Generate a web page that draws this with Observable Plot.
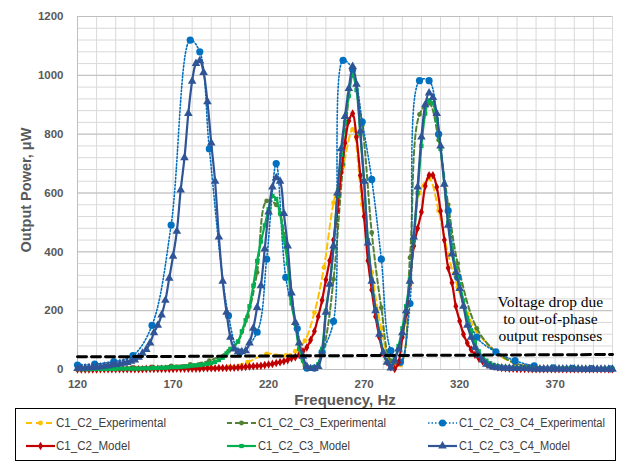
<!DOCTYPE html>
<html><head><meta charset="utf-8">
<script src="https://cdn.jsdelivr.net/npm/d3@7"></script>
<script src="https://cdn.jsdelivr.net/npm/@observablehq/plot@0.6"></script>
<style>
body{margin:0;background:#fff;width:625px;height:467px;overflow:hidden;position:relative;}
#chart{position:absolute;left:0;top:0}
#legend{position:absolute;left:15px;top:408px}
</style></head><body>
<div id="chart"></div><div id="legend"></div>
<script>
// ---------- data ----------
const xTicks = [120,170,220,270,320,370];
const yTicks = [0,200,400,600,800,1000,1200];

const freqModel = [
120,122,124,126,128,130,132,134,136,138,
140,142,144,146,148,150,152,154,156,158,
160,162,164,166,168,170,172,174,176,178,
180,182,184,186,188,190,192,194,196,198,
200,202,204,206,208,210,212,214,216,218,
220,222,224,226,228,230,232,234,236,238,
240,242,244,246,248,250,252,254,256,258,
260,262,264,266,268,270,272,274,276,278,
280,282,284,286,288,290,292,294,296,298,
300,302,304,306,308,310,312,314,316,318,
320,322,324,326,328,330,332,334,336,338,
340,342,344,346,348,350,352,354,356,358,
360,362,364,366,368,370,372,374,376,378,
380,382,384,386,388,390,392,394,396,398,
400];

const c2Model = [
0,0,0,0,0,0,1,1,1,1,
1,1,1,1,1,1,1,1,2,2,
2,2,2,2,2,2,3,3,3,3,
3,3,3,4,4,4,4,5,5,5,
6,6,7,8,9,10,11,12,13,15,
17,19,22,25,28,32,38,42,50,62,
75,100,130,180,235,305,370,440,540,670,
770,845,870,790,660,520,370,270,180,110,
55,25,8,2,24,110,190,300,420,480,
535,624,660,660,620,539,440,345,295,215,
165,120,90,68,50,38,28,20,14,10,
7,5,4,3,3,2,2,2,2,1,
1,1,1,1,1,1,1,1,1,1,
1,1,1,1,1,1,1,1,1,1,
1];

const c3Model = [
1,1,1,1,2,2,2,2,2,2,
2,3,3,3,3,3,3,4,4,4,
5,5,6,6,7,8,8,9,10,11,
13,14,15,17,19,22,26,32,40,55,
70,80,95,130,168,215,285,369,435,490,
545,590,580,530,445,360,225,155,70,30,
8,3,5,18,70,200,290,415,590,730,
840,930,1000,950,800,640,440,305,205,125,
60,25,10,35,80,140,215,310,440,600,
760,870,915,905,850,750,630,500,410,345,
290,235,175,130,92,62,44,30,21,15,
11,9,7,6,6,5,5,5,4,4,
4,4,3,3,3,3,3,3,3,3,
3,3,3,3,2,2,2,2,2,2,
2];

const c4Model = [
3,4,5,6,7,8,9,11,13,15,
17,19,21,24,28,32,42,55,68,90,
125,150,185,235,310,385,470,610,720,870,
980,1040,1050,1010,910,770,640,450,300,195,
110,70,60,60,64,90,140,211,285,410,
535,620,652,640,530,420,260,160,90,45,
10,3,3,10,55,195,290,420,600,750,
860,955,1030,970,810,640,430,300,200,120,
58,25,5,30,70,125,200,300,450,620,
790,900,940,925,870,760,630,490,393,330,
275,215,150,110,75,48,32,18,12,8,
6,5,4,4,3,3,3,3,3,2,
2,2,2,2,2,2,2,2,2,2,
2,2,1,1,1,1,1,1,1,1,
1];

const c2ExpFreq  = [120,129,139,149,159,169,179,189,199,209,219,229,234,239,244,249,254,259,264,269,274,279,284,289,294,299,304,309,314,319,324,329,339,349,359,369,379,389,399];
const c2ExpPower = [2,2,3,4,5,6,7,8,8,25,53,48,62,98,194,347,567,690,816,561,330,140,25,15,290,600,650,540,390,280,190,130,57,20,8,4,3,2,2];

const c3ExpFreq  = [120,129,139,149,159,169,179,189,199,204,209,214,219,224,229,234,239,244,249,254,259,264,269,274,279,284,289,294,299,304,309,314,319,329,339,349,359,369,379,389,399];
const c3ExpPower = [2,3,5,7,9,12,17,30,62,95,180,330,573,560,430,160,12,5,80,307,697,1000,830,465,210,30,20,380,867,905,780,560,360,140,60,22,8,4,3,2,2];

const c4ExpFreq  = [120,129,139,149,159,169,179,184,189,199,205,214,219,224,229,235,240,244,248,254,259,264,269,274,279,284,289,294,299,304,309,314,319,329,339,349,359,369,379,389,399];
const c4ExpPower = [15,18,27,47,150,491,1120,1080,750,183,59,127,375,700,313,139,5,5,59,164,1051,1020,842,646,375,64,25,224,982,982,800,540,313,110,60,30,12,6,4,3,2];

const dropFreq  = [120,400];
const dropPower = [43,51];

const noteText = "Voltage drop due\nto out-of-phase\noutput responses";
const noteFreq = 367.5;
const notePower = 174;

// ---------- series ----------
const series = [
  {name:"C1_C2_Experimental", f:c2ExpFreq, p:c2ExpPower, color:"#FFC000", dash:"6,4", w:2, symbol:"circle", r:2.4},
  {name:"C1_C2_C3_Experimental", f:c3ExpFreq, p:c3ExpPower, color:"#548235", dash:"5,3", w:2, symbol:"circle", r:2.4},
  {name:"C1_C2_C3_C4_Experimental", f:c4ExpFreq, p:c4ExpPower, color:"#0070C0", dash:"1.5,2", w:1.6, symbol:"circle", r:3.6},
  {name:"C1_C2_Model", f:freqModel, p:c2Model, color:"#C00000", dash:null, w:2.2, symbol:"diamond", r:2.6},
  {name:"C1_C2_C3_Model", f:freqModel, p:c3Model, color:"#00B050", dash:null, w:2.2, symbol:"square", r:2.4},
  {name:"C1_C2_C3_C4_Model", f:freqModel, p:c4Model, color:"#2F5597", dash:null, w:2.2, symbol:"triangle", r:3.2}
];
const toRows = (f,p) => f.map((x,i) => ({f:x, p:p[i]}));

const marks = [
  Plot.gridX({ticks: d3.range(120, 401, 10), stroke:"#d9d9d9", strokeOpacity:1}),
  Plot.gridY({ticks: d3.range(0, 1201, 40), stroke:"#d9d9d9", strokeOpacity:1}),
  Plot.gridY({ticks: yTicks, stroke:"#bfbfbf", strokeOpacity:1}),
  Plot.ruleX([120], {stroke:"#bfbfbf"}),
  Plot.ruleY([0], {stroke:"#bfbfbf"}),
  Plot.axisX({ticks: xTicks, tickSize:0, tickPadding:10, tickFormat:d=>String(d), label:null, fontWeight:"bold", fill:"#595959", fontSize:11.5}),
  Plot.axisY({ticks: yTicks, tickSize:0, tickPadding:14, tickFormat:d=>String(d), label:null, fontWeight:"bold", fill:"#595959", fontSize:11.5}),
  Plot.text(["Frequency, Hz"], {frameAnchor:"bottom", lineAnchor:"middle", dy:31, fontSize:15, fontWeight:"bold", fill:"#595959"}),
  Plot.text(["Output Power, μW"], {frameAnchor:"left", textAnchor:"middle", lineAnchor:"middle", dx:-51, dy:-3, rotate:-90, fontSize:14.5, fontWeight:"bold", fill:"#595959"})
];
for (const s of series) {
  const rows = toRows(s.f, s.p);
  marks.push(Plot.line(rows, {x:"f", y:"p", stroke:s.color, strokeWidth:s.w, strokeDasharray:s.dash ?? undefined, curve:"catmull-rom"}));
  marks.push(Plot.dot(rows, {x:"f", y:"p", symbol:s.symbol, r:s.r, fill:s.color, stroke:"none"}));
}
marks.push(Plot.line(toRows(dropFreq, dropPower), {x:"f", y:"p", stroke:"#000", strokeWidth:3, strokeDasharray:"9,5"}));
marks.push(Plot.text([noteText], {x:()=>noteFreq, y:()=>notePower, fontFamily:"Liberation Serif, Times New Roman, serif", fontSize:15.5, lineHeight:1.1, fill:"#000"}));

const chart = Plot.plot({
  width:625, height:405,
  marginLeft:77, marginRight:13, marginTop:16, marginBottom:36,
  x:{domain:[120,400], axis:null},
  y:{domain:[0,1200], axis:null},
  style:{background:"white", fontFamily:"Liberation Sans, Arial, sans-serif", overflow:"visible"},
  marks
});
document.getElementById("chart").appendChild(chart);

// ---------- legend ----------
const lg = d3.select("#legend").append("svg").attr("width", 610).attr("height", 54);
lg.append("rect").attr("x",0.5).attr("y",0.5).attr("width",600).attr("height",52).attr("fill","white").attr("stroke","#000").attr("stroke-width",1);
const pos = [
  {x:11, y:15, tx:41, tw:110},
  {x:212, y:15, tx:243, tw:128},
  {x:413, y:15, tx:444, tw:146},
  {x:11, y:38, tx:41, tw:74},
  {x:212, y:38, tx:243, tw:92},
  {x:413, y:38, tx:444, tw:111}
];
series.forEach((s, i) => {
  const P = pos[i];
  const g = lg.append("g");
  const ln = g.append("line").attr("x1",P.x).attr("x2",P.x+29).attr("y1",P.y).attr("y2",P.y)
    .attr("stroke",s.color).attr("stroke-width",s.w);
  if (s.dash) ln.attr("stroke-dasharray", s.dash);
  const sym = {circle:d3.symbolCircle, diamond:d3.symbolDiamond, square:d3.symbolSquare, triangle:d3.symbolTriangle}[s.symbol];
  g.append("path").attr("d", d3.symbol(sym, Math.PI*s.r*s.r)()).attr("transform",`translate(${P.x+14.5},${P.y})`).attr("fill",s.color);
  g.append("text").attr("x",P.tx).attr("y",P.y).attr("dy","0.35em")
    .attr("font-family","Liberation Sans, Arial, sans-serif").attr("font-size",12)
    .attr("fill","#404040").attr("textLength",P.tw).attr("lengthAdjust","spacingAndGlyphs").text(s.name);
});
</script>
</body></html>
